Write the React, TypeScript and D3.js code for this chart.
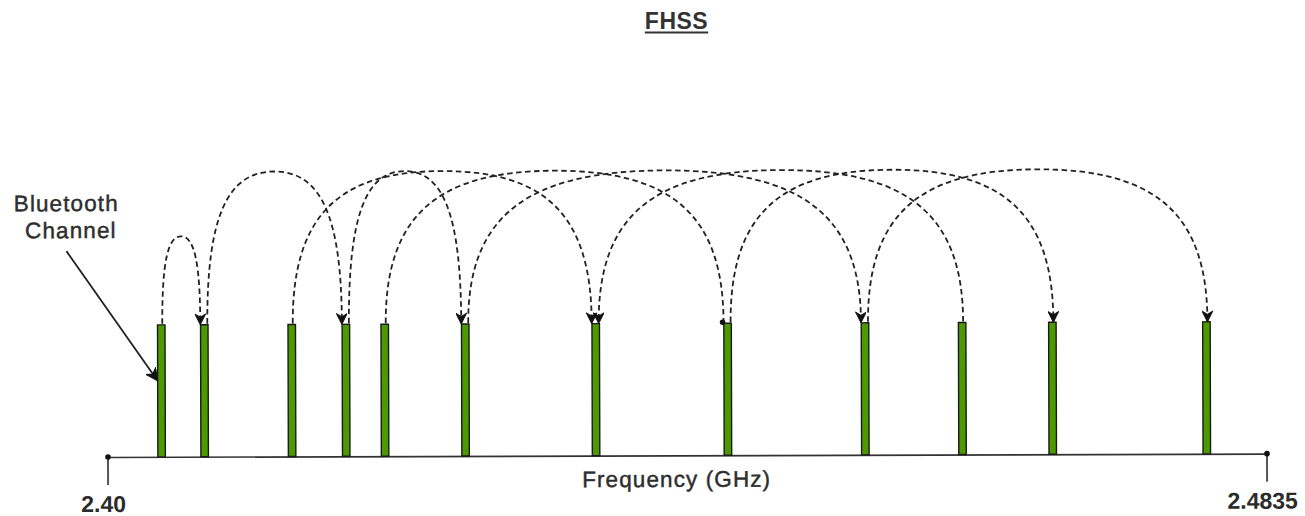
import React, { useEffect, useRef } from "react";
import * as d3 from "d3";

// ---- data ----
const channelFreqsGHz = [2.4039, 2.407, 2.4133, 2.4172, 2.42, 2.4258, 2.4352, 2.4447, 2.4546, 2.4616, 2.4681, 2.4792];
const channelLevels = [1, 1, 1, 1, 1, 1, 1, 1, 1, 1, 1, 1];
const hopFrom = [0, 1, 3, 2, 4, 5, 9, 7, 8];
const hopTo = [1, 3, 5, 6, 7, 8, 6, 10, 11];
const hopEndMarker = ["arrow", "arrow", "arrow", "arrow", "dot", "arrow", "arrow", "arrow", "arrow"];
const axisTickValues = [2.4, 2.4835];
const axisTickLabels = ["2.40", "2.4835"];
const titleText = "FHSS";
const xAxisLabel = "Frequency (GHz)";
const annotationLines = ["Bluetooth", "Channel"];

const W = 1305;
const H = 516;
const FONT = "'Liberation Sans', Arial, Helvetica, sans-serif";

export default function App() {
  const ref = useRef<SVGSVGElement | null>(null);

  useEffect(() => {
    const svg = d3.select(ref.current);
    svg.selectAll("*").remove();

    const x = d3.scaleLinear().domain([2.4, 2.4835]).range([107.5, 1266.5]);
    const y = d3.scaleLinear().domain([0, 1]).range([457, 325]);
    const axisY = y(0);

    const defs = svg.append("defs");
    defs
      .append("marker")
      .attr("id", "hopArrow")
      .attr("viewBox", "0 0 10 10")
      .attr("refX", 9)
      .attr("refY", 5)
      .attr("markerUnits", "userSpaceOnUse")
      .attr("markerWidth", 13)
      .attr("markerHeight", 11)
      .attr("orient", "auto")
      .append("path")
      .attr("d", "M0,0 L10,5 L0,10 L3,5 Z")
      .attr("fill", "#111")
      .attr("stroke", "#111")
      .attr("stroke-width", 0.8);
    defs
      .append("marker")
      .attr("id", "annArrow")
      .attr("viewBox", "0 0 10 10")
      .attr("refX", 9)
      .attr("refY", 5)
      .attr("markerUnits", "userSpaceOnUse")
      .attr("markerWidth", 15)
      .attr("markerHeight", 12)
      .attr("orient", "auto")
      .append("path")
      .attr("d", "M0,0 L10,5 L0,10 L3,5 Z")
      .attr("fill", "#111")
      .attr("stroke", "#111")
      .attr("stroke-width", 0.8);

    svg.append("rect").attr("width", W).attr("height", H).attr("fill", "#fff");

    // title
    const title = svg
      .append("text")
      .attr("x", 676.5)
      .attr("y", 28.5)
      .attr("text-anchor", "middle")
      .attr("font-family", FONT)
      .attr("font-weight", "bold")
      .attr("font-size", 23)
      .attr("letter-spacing", 0.5)
      .attr("fill", "#333")
      .text(titleText);
    const tb = (title.node() as SVGTextElement).getBBox();
    svg
      .append("line")
      .attr("x1", tb.x)
      .attr("x2", tb.x + tb.width)
      .attr("y1", 32.5)
      .attr("y2", 32.5)
      .attr("stroke", "#333")
      .attr("stroke-width", 2);

    const g = svg.append("g").attr("transform", `rotate(-0.165 ${x(2.4)} ${axisY})`);

    // axis
    const axis = d3
      .axisBottom(x)
      .tickValues(axisTickValues)
      .tickSizeInner(28)
      .tickSizeOuter(0)
      .tickFormat((_d, i) => axisTickLabels[i]);
    const ax = g.append("g").attr("transform", `translate(0,${axisY})`).call(axis);
    ax.select(".domain").attr("stroke", "#333").attr("stroke-width", 1.6);
    ax.selectAll(".tick line").attr("stroke", "#555").attr("stroke-width", 2);
    ax.selectAll(".tick text")
      .attr("y", 55)
      .attr("dy", 0)
      .attr("dx", -4.5)
      .attr("font-family", FONT)
      .attr("font-weight", "bold")
      .attr("font-size", 23)
      .attr("fill", "#2b2b2b");
    ax.selectAll(".tick")
      .append("circle")
      .attr("r", 2.8)
      .attr("fill", "#111");

    // x label
    g.append("text")
      .attr("x", x(2.441))
      .attr("y", 488.5)
      .attr("text-anchor", "middle")
      .attr("font-family", FONT)
      .attr("font-size", 22.5)
      .attr("letter-spacing", 1.1)
      .attr("fill", "#2e2e2e")
      .attr("stroke", "#2e2e2e")
      .attr("stroke-width", 0.45)
      .text(xAxisLabel);

    // bars
    g.selectAll("rect.bar")
      .data(channelFreqsGHz)
      .join("rect")
      .attr("class", "bar")
      .attr("x", (d) => x(d) - 3.75)
      .attr("width", 7.5)
      .attr("y", (_d, i) => y(channelLevels[i]))
      .attr("height", (_d, i) => y(0) - y(channelLevels[i]))
      .attr("fill", "#4D9900")
      .attr("stroke", "#1a1a1a")
      .attr("stroke-width", 1.4);

    // hop endpoints offsets
    const conn: number[][] = channelFreqsGHz.map(() => []);
    hopFrom.forEach((f, i) => {
      conn[f].push(hopTo[i]);
      conn[hopTo[i]].push(f);
    });
    const endX = (bar: number, other: number) => {
      const cx = x(channelFreqsGHz[bar]);
      if (conn[bar].length < 2) return cx + 1;
      return other < bar ? cx - 4 : cx + 3;
    };

    const k = 0.7;
    hopFrom.forEach((f, i) => {
      const t = hopTo[i];
      const x1 = endX(f, t);
      const x2 = endX(t, f);
      const y0 = y(channelLevels[f]) - 1;
      const y1 = y(channelLevels[t]) - 1;
      const span = Math.abs(x2 - x1);
      const h = Math.min(152, 2.3 * span);
      const yp = Math.min(y0, y1) - h;
      const xm = (x1 + x2) / 2;
      const rx = (x2 - x1) / 2;
      const p = d3.path();
      p.moveTo(x1, y0);
      p.bezierCurveTo(x1, y0 - k * (y0 - yp), xm - k * rx, yp, xm, yp);
      p.bezierCurveTo(xm + k * rx, yp, x2, y1 - k * (y1 - yp), x2, y1);
      const path = g
        .append("path")
        .attr("d", p.toString())
        .attr("fill", "none")
        .attr("stroke", "#222")
        .attr("stroke-width", 1.8)
        .attr("stroke-dasharray", "5.5 3.5");
      if (hopEndMarker[i] === "arrow") {
        path.attr("marker-end", "url(#hopArrow)");
      } else {
        g.append("circle").attr("cx", x2 - 1).attr("cy", y1).attr("r", 2.8).attr("fill", "#111");
      }
    });

    // annotation
    const ann = g
      .append("text")
      .attr("font-family", FONT)
      .attr("font-size", 22.5)
      .attr("letter-spacing", 1.1)
      .attr("fill", "#2e2e2e")
      .attr("stroke", "#2e2e2e")
      .attr("stroke-width", 0.45)
      .attr("text-anchor", "middle");
    ann.append("tspan").attr("x", 67).attr("y", 211).text(annotationLines[0]);
    ann.append("tspan").attr("x", 71.5).attr("y", 238).text(annotationLines[1]);

    const bx = x(channelFreqsGHz[0]) - 4.5;
    g.append("line")
      .attr("x1", 67)
      .attr("y1", 251)
      .attr("x2", bx)
      .attr("y2", y(channelLevels[0]) + 55)
      .attr("stroke", "#222")
      .attr("stroke-width", 1.8)
      .attr("marker-end", "url(#annArrow)");
  }, []);

  return (
    <svg
      ref={ref}
      width={W}
      height={H}
      style={{ position: "absolute", left: 0, top: 0, display: "block" }}
    />
  );
}
